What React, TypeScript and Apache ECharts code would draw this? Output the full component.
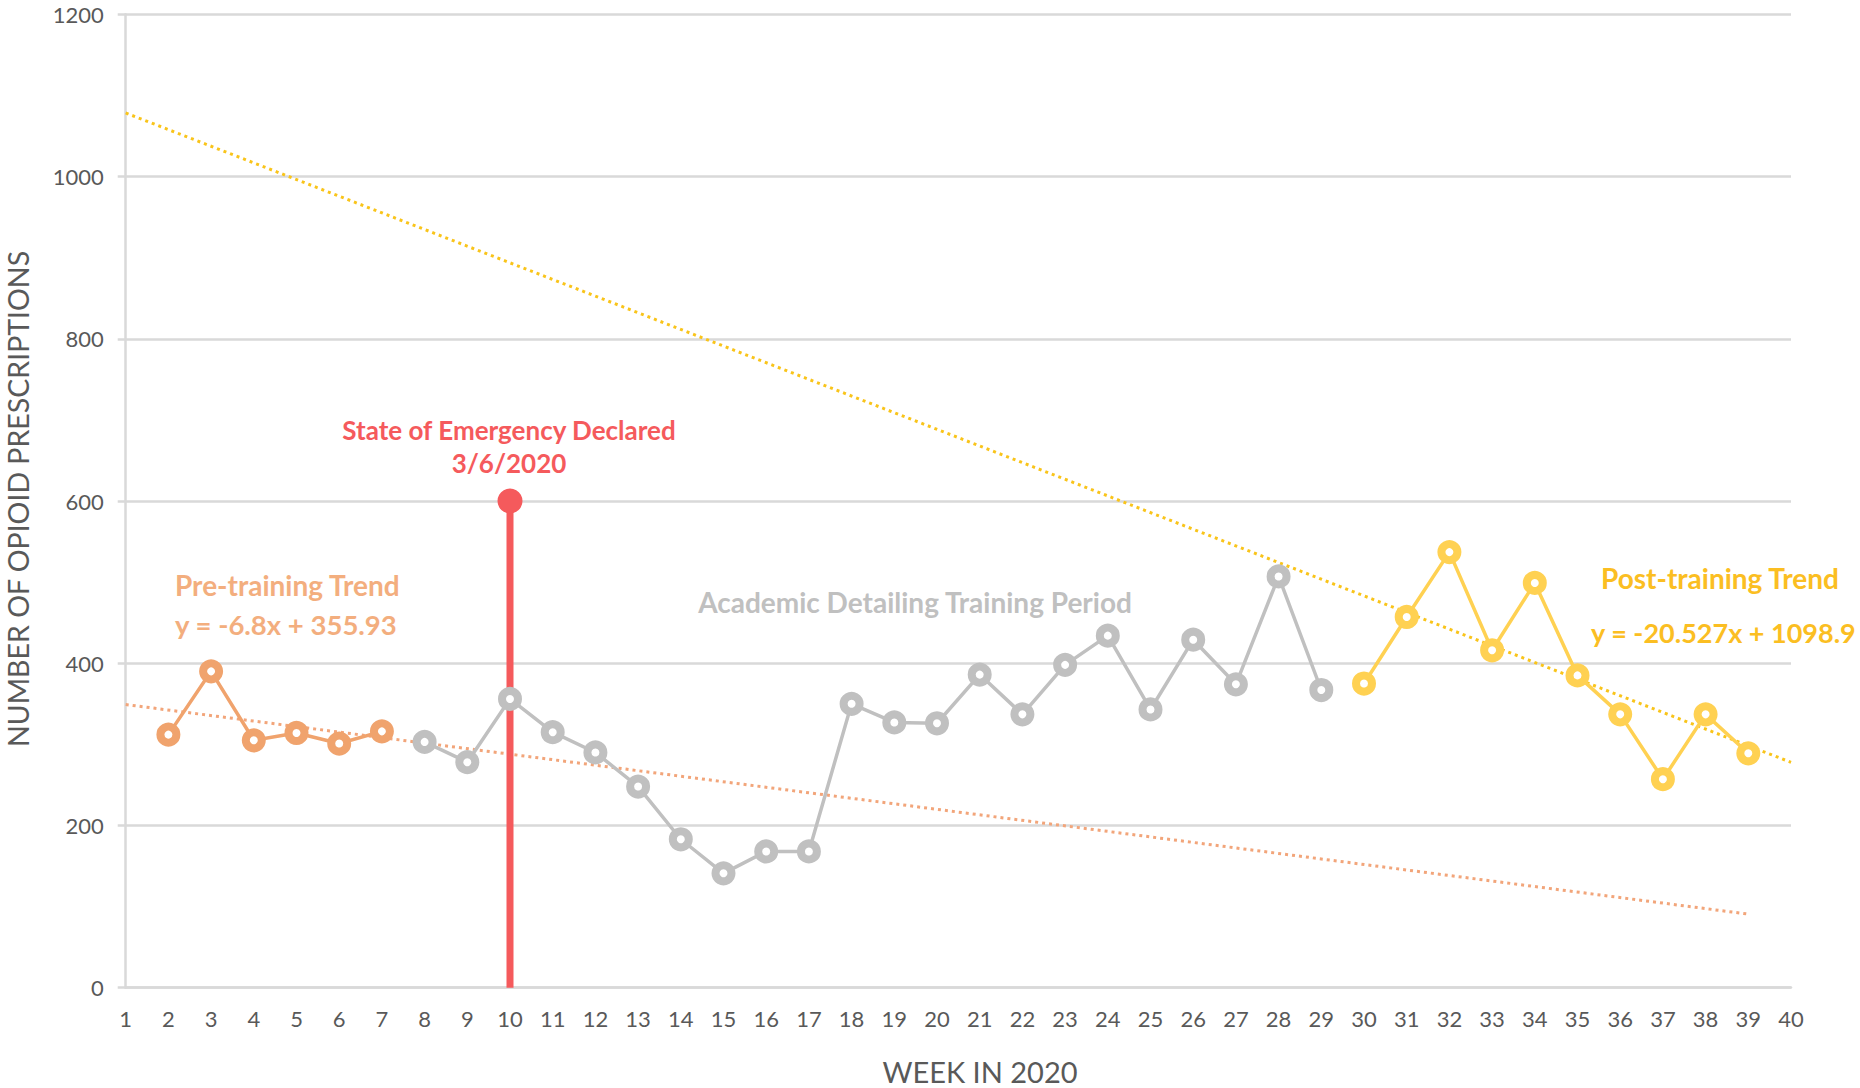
import React, { useEffect, useRef } from "react";
import * as echarts from "echarts";

// ---- Data ----
const xTickMin = 1;
const xTickMax = 40;
const yTickMax = 1200;
const yTickStep = 200;

const preWeeks = [2, 3, 4, 5, 6, 7];
const preCounts = [312, 390, 305, 314, 301, 316];

const trainingWeeks = [8, 9, 10, 11, 12, 13, 14, 15, 16, 17, 18, 19, 20, 21, 22, 23, 24, 25, 26, 27, 28, 29];
const trainingCounts = [303, 278, 356, 315, 290, 248, 183, 141, 168, 168, 350, 327, 326, 386, 337, 398, 434, 343, 429, 374, 507, 367];

const postWeeks = [30, 31, 32, 33, 34, 35, 36, 37, 38, 39];
const postCounts = [375, 457, 537, 416, 499, 385, 337, 257, 337, 289];

const preTrendWeeks = [1, 39];
const preTrendValues = [349.1, 90.7];

const postTrendWeeks = [1, 40];
const postTrendValues = [1078.4, 277.8];

const emergencyWeek = [10, 10];
const emergencyValues = [0, 600];

const labels = {
  yTitle: "NUMBER OF OPIOID PRESCRIPTIONS",
  xTitle: "WEEK IN 2020",
  emergency1: "State of Emergency Declared",
  emergency2: "3/6/2020",
  pre1: "Pre-training Trend",
  pre2: "y = -6.8x + 355.93",
  training: "Academic Detailing Training Period",
  post1: "Post-training Trend",
  post2: "y = -20.527x + 1098.9",
};

const C_PRE = "#F0A36D";
const C_PRE_TEXT = "#F3AE7E";
const C_PRE_TREND = "#F2A57A";
const C_GRAY = "#C0C0C0";
const C_POST = "#FFD152";
const C_POST_TREND = "#F9C41A";
const C_POST_TEXT = "#FBBE22";
const C_RED = "#F55A5C";
const C_AXIS = "#D9D9D9";
const C_LABEL = "#595959";
const FONT = "Lato, 'Open Sans', sans-serif";

const zip = (xs: number[], ys: number[]) => xs.map((x, i) => [x, ys[i]]);

const markerSeries = (name: string, xs: number[], ys: number[], color: string) => ({
  name,
  type: "line",
  data: zip(xs, ys),
  symbol: "circle",
  symbolSize: 16,
  showSymbol: true,
  lineStyle: { color, width: 3.5 },
  itemStyle: { color: "#ffffff", borderColor: color, borderWidth: 8 },
  emphasis: { disabled: true },
  z: 5,
});

const trendSeries = (name: string, xs: number[], ys: number[], color: string) => ({
  name,
  type: "line",
  data: zip(xs, ys),
  symbol: "none",
  lineStyle: { color, width: 3, type: [3, 4] },
  emphasis: { disabled: true },
  z: 2,
});

export default function App() {
  const ref = useRef<HTMLDivElement>(null);

  useEffect(() => {
    if (!ref.current) return;
    const chart = echarts.init(ref.current, undefined, { renderer: "svg" });
    const text = (
      t: string,
      x: number,
      y: number,
      color: string,
      size: number,
      align: string,
      bold: boolean,
      rotation = 0
    ) => ({
      type: "text",
      x,
      y,
      rotation,
      style: {
        text: t,
        fill: color,
        font: `${bold ? "bold " : ""}${size}px ${FONT}`,
        align,
        verticalAlign: "middle",
      },
      z: 10,
    });

    chart.setOption({
      animation: false,
      backgroundColor: "#ffffff",
      grid: { left: 125.7, right: 69, top: 14.3, bottom: 100.3, containLabel: false },
      xAxis: {
        type: "value",
        min: xTickMin,
        max: xTickMax,
        interval: 1,
        axisLine: { show: true, lineStyle: { color: C_AXIS, width: 2.5 } },
        axisTick: { show: false },
        splitLine: { show: false },
        axisLabel: { color: C_LABEL, fontSize: 22, fontFamily: FONT, margin: 20, formatter: (v: number) => String(v) },
      },
      yAxis: {
        type: "value",
        min: 0,
        max: yTickMax,
        interval: yTickStep,
        axisLine: { show: true, lineStyle: { color: C_AXIS, width: 2.5 } },
        axisTick: { show: true, length: 8, lineStyle: { color: C_AXIS, width: 2.5 } },
        splitLine: { show: true, lineStyle: { color: C_AXIS, width: 2.5 } },
        axisLabel: { color: C_LABEL, fontSize: 22, fontFamily: FONT, margin: 22, formatter: (v: number) => String(v) },
      },
      series: [
        trendSeries("Pre-training trend", preTrendWeeks, preTrendValues, C_PRE_TREND),
        trendSeries("Post-training trend", postTrendWeeks, postTrendValues, C_POST_TREND),
        {
          name: "State of Emergency",
          type: "line",
          data: [
            { value: [emergencyWeek[0], emergencyValues[0]], symbol: "none" },
            { value: [emergencyWeek[1], emergencyValues[1]], symbol: "circle" },
          ],
          symbolSize: 25,
          lineStyle: { color: C_RED, width: 7 },
          itemStyle: { color: C_RED },
          emphasis: { disabled: true },
          z: 3,
        },
        markerSeries("Pre-training", preWeeks, preCounts, C_PRE),
        markerSeries("Training", trainingWeeks, trainingCounts, C_GRAY),
        markerSeries("Post-training", postWeeks, postCounts, C_POST),
      ],
      graphic: [
        text(labels.yTitle, 18, 499, C_LABEL, 28.5, "center", false, Math.PI / 2),
        text(labels.xTitle, 980, 1071, C_LABEL, 29, "center", false),
        text(labels.emergency1, 509, 430, C_RED, 26, "center", true),
        text(labels.emergency2, 509, 463, C_RED, 26, "center", true),
        text(labels.pre1, 175, 585, C_PRE_TEXT, 28, "left", true),
        text(labels.pre2, 175, 624, C_PRE_TEXT, 27.5, "left", true),
        text(labels.training, 915, 602, C_GRAY, 28, "center", true),
        text(labels.post1, 1601, 578, C_POST_TEXT, 28, "left", true),
        text(labels.post2, 1591, 632, C_POST_TEXT, 27, "left", true),
      ],
    });
    return () => chart.dispose();
  }, []);

  return (
    <div
      ref={ref}
      style={{ position: "fixed", left: 0, top: 0, width: 1860, height: 1088, background: "#fff" }}
    />
  );
}
